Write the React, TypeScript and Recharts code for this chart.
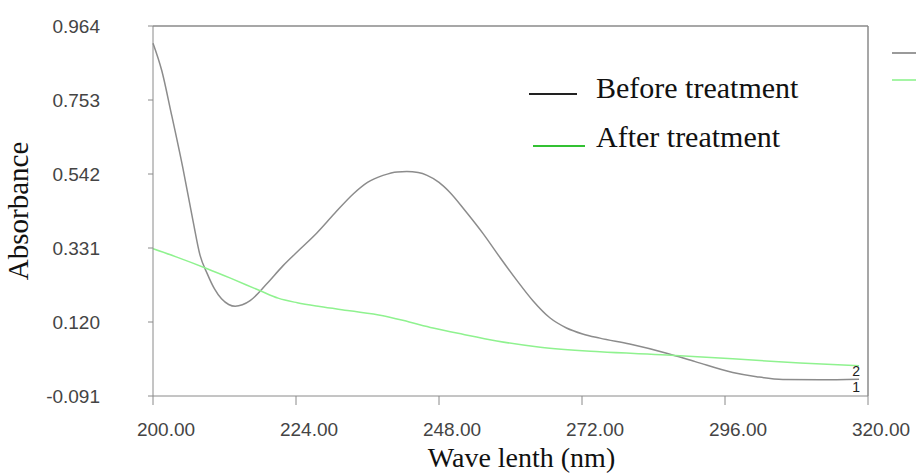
import { LineChart, Line, XAxis, YAxis, ReferenceLine, Legend } from "recharts";

// absorbance spectra: [wavelength nm, absorbance]
const beforeTreatment: [number, number][] = [
  [200, 0.915], [201.5, 0.835], [203, 0.72], [205, 0.56], [206.7, 0.41], [207.9, 0.31],
  [209.1, 0.258], [210.3, 0.215], [211.5, 0.186], [212.7, 0.17], [213.8, 0.165], [215, 0.169],
  [216.3, 0.181], [219.1, 0.229], [221.8, 0.28], [224.7, 0.328], [227.5, 0.374], [230.5, 0.43],
  [233.6, 0.485], [236, 0.518], [238.6, 0.538], [241, 0.548], [242.6, 0.549], [244.5, 0.546],
  [246, 0.538], [248, 0.518], [249.8, 0.49], [252.5, 0.435], [255.4, 0.372], [258.2, 0.305],
  [261.1, 0.238], [263.8, 0.18], [266.6, 0.132], [269.4, 0.103], [272.1, 0.086], [275, 0.074],
  [280, 0.057], [286.2, 0.031], [291, 0.007], [297.3, -0.024], [301.3, -0.036], [305.7, -0.044],
  [312, -0.045], [318.5, -0.043],
];

const afterTreatment: [number, number][] = [
  [200, 0.329], [204, 0.305], [209.1, 0.272], [213, 0.245], [218, 0.209], [221, 0.188],
  [224.2, 0.175], [228, 0.164], [233, 0.152], [238.6, 0.138], [243, 0.12], [247, 0.103],
  [252, 0.085], [257.7, 0.066], [265, 0.048], [275, 0.035], [286.2, 0.026], [297.3, 0.015],
  [308.6, 0.003], [318.5, -0.005],
];

const xTicks = [200, 224, 248, 272, 296, 320];
const yTicks = [-0.091, 0.12, 0.331, 0.542, 0.753, 0.964];
const seriesNames = ["Before treatment", "After treatment"];
const curveMarks = ["1", "2"];

const toRows = (pts: [number, number][]) => pts.map(([nm, a]) => ({ nm, a }));

const AXIS = "#8a8a8a";
const BEFORE = "#8c8c8c";
const AFTER = "#8ff28f";
const serif = "'Liberation Serif', 'Times New Roman', serif";
const sans = "'Liberation Sans', Arial, sans-serif";

// draws the curve number next to the last point only
const endMark = (mark: string, count: number, dy: number) => (props: any) => {
  const { x, y, index } = props;
  if (index !== count - 1) return null;
  return (
    <text x={x - 3} y={y + dy} fontSize={14} fontFamily={sans} fill="#222" textAnchor="middle" dominantBaseline="central">
      {mark}
    </text>
  );
};

function InnerLegend() {
  const row = (color: string, name: string, lineLeft: number, lineW: number, top: number, textTop: number) => (
    <div style={{ position: "absolute", top, left: 0, height: 30, width: 300 }}>
      <div style={{ position: "absolute", left: lineLeft, top: 15, width: lineW, height: 2, background: color }} />
      <span style={{ position: "absolute", left: 67, top: textTop, fontFamily: serif, fontSize: 30, color: "#111", whiteSpace: "nowrap" }}>
        {name}
      </span>
    </div>
  );
  return (
    <div style={{ position: "relative", width: 300, height: 90 }}>
      {row("#222", seriesNames[0], 0, 48, 0, -7)}
      {row("#33c133", seriesNames[1], 4, 52, 52, -10)}
    </div>
  );
}

export default function App() {
  return (
    <div style={{ position: "absolute", left: 0, top: 0, width: 916, height: 473, background: "#fff" }}>
      <LineChart width={916} height={473} margin={{ top: 26, right: 48, bottom: 37, left: 0 }}>
        <XAxis
          dataKey="nm"
          type="number"
          domain={[200, 320]}
          ticks={xTicks}
          tickFormatter={(v: number) => v.toFixed(2)}
          height={40}
          stroke={AXIS}
          tickSize={9}
          tick={{ fill: "#444", fontSize: 19, fontFamily: sans, dx: 13, dy: 16 }}
          label={{ value: "Wave lenth (nm)", position: "insideBottom", offset: -31, dx: 11, fill: "#111", fontSize: 28, fontFamily: serif }}
        />
        <YAxis
          dataKey="a"
          type="number"
          domain={[-0.091, 0.964]}
          ticks={yTicks}
          tickFormatter={(v: number) => v.toFixed(3)}
          width={153}
          stroke={AXIS}
          tickSize={5}
          tick={{ fill: "#444", fontSize: 19, fontFamily: sans, dx: -46 }}
          label={{ value: "Absorbance", angle: -90, position: "insideLeft", offset: 18, dy: 0, fill: "#111", fontSize: 29, fontFamily: serif, style: { textAnchor: "middle" } }}
        />
        <ReferenceLine y={0.964} stroke={AXIS} strokeWidth={1.5} />
        <ReferenceLine x={320} stroke={AXIS} strokeWidth={1.5} />
        <Line
          data={toRows(beforeTreatment)}
          dataKey="a"
          name={seriesNames[0]}
          type="monotone"
          stroke={BEFORE}
          strokeWidth={1.5}
          dot={false}
          isAnimationActive={false}
          label={endMark(curveMarks[0], beforeTreatment.length, 8)}
        />
        <Line
          data={toRows(afterTreatment)}
          dataKey="a"
          name={seriesNames[1]}
          type="monotone"
          stroke={AFTER}
          strokeWidth={1.5}
          dot={false}
          isAnimationActive={false}
          label={endMark(curveMarks[1], afterTreatment.length, 5)}
        />
        <Legend
          layout="vertical"
          align="center"
          verticalAlign="middle"
          wrapperStyle={{ left: 529, top: 78, width: 300 }}
          content={() => <InnerLegend />}
        />
      </LineChart>
      {/* small stubs to the right of the frame */}
      <div style={{ position: "absolute", left: 892, top: 52, width: 24, height: 2, background: "#9a9a9a" }} />
      <div style={{ position: "absolute", left: 892, top: 79, width: 24, height: 2, background: "#a5f5a5" }} />
    </div>
  );
}
